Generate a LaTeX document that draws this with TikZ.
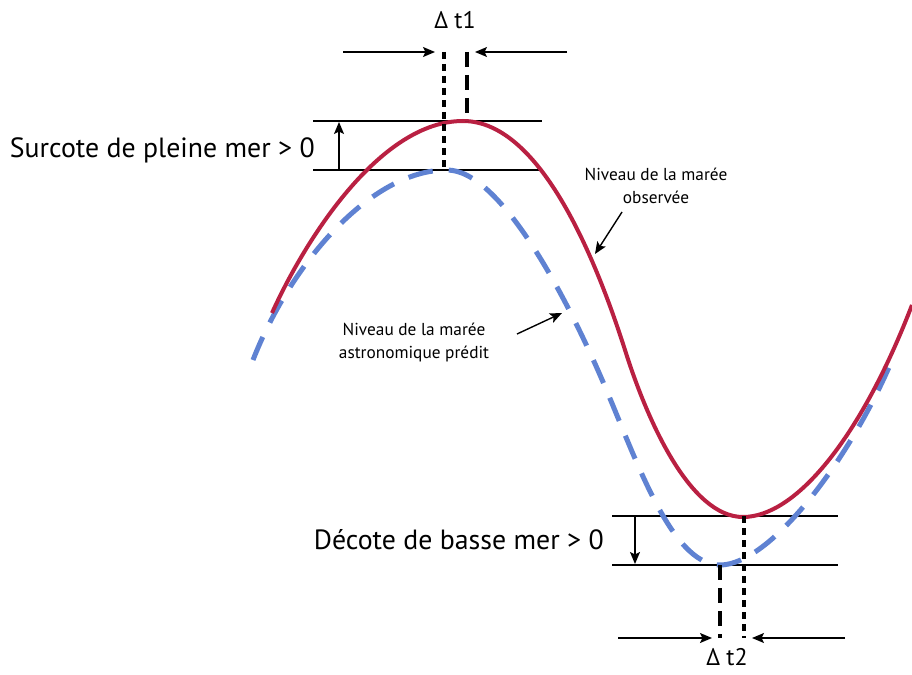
\documentclass[tikz,border=0pt]{standalone}
\usepackage{fontspec}
\setmainfont{PT Sans}
\usetikzlibrary{arrows.meta}
\definecolor{obs}{RGB}{185,32,66}
\definecolor{pred}{RGB}{95,130,210}
\tikzset{
  ref/.style={line width=1.4pt, black},
  arr/.style={line width=1.4pt, black, -{Stealth[length=12pt,width=10pt,inset=2.5pt]}},
  dotv/.style={line width=3.5pt, black, dash pattern=on 7pt off 5pt},
  dashv/.style={line width=3.5pt, black, dash pattern=on 15pt off 8pt},
  obsline/.style={line width=4pt, obs},
  predline/.style={line width=5pt, pred, dash pattern=on 25pt off 16pt},
  big/.style={font=\fontsize{27.8}{30}\selectfont, inner sep=0pt},
  delta/.style={font=\fontsize{24}{26}\selectfont, inner sep=0pt},
  small/.style={font=\fontsize{17.3}{23}\selectfont, align=center, inner sep=0pt}
}
\begin{document}
\begin{tikzpicture}[x=1pt,y=-1pt]
\useasboundingbox (0,0) rectangle (912,674);
% reference lines
\coordinate (t1a) at (313,121); \coordinate (t1b) at (542,121);
\coordinate (t2a) at (313,170); \coordinate (t2b) at (542,170);
\coordinate (b1a) at (612,516); \coordinate (b1b) at (838,516);
\coordinate (b2a) at (612,565); \coordinate (b2b) at (838,565);
\draw[ref] (t1a) -- (t1b);
\draw[ref] (t2a) -- (t2b);
\draw[ref] (b1a) -- (b1b);
\draw[ref] (b2a) -- (b2b);
% predicted curve
\draw[predline] (253,360) .. controls (290,265) and (370,170) .. (447,170)
  .. controls (500,170) and (565,295) .. (600,375)
  .. controls (635,455) and (670,565) .. (720,565)
  .. controls (770,565) and (850,460) .. (893,358);
% observed curve
\draw[obsline] (272,313) .. controls (305,240) and (380,121) .. (463,121)
  .. controls (530,121) and (585,225) .. (625,350)
  .. controls (647,420) and (690,517) .. (743,517)
  .. controls (795,517) and (860,440) .. (912,305);
% delta t1
\coordinate (d1top) at (444,52); \coordinate (d1bot) at (444,170);
\coordinate (e1top) at (467,52); \coordinate (e1bot) at (467,121);
\draw[dotv] (d1top) -- (d1bot);
\draw[dashv] (e1top) -- (e1bot);
\coordinate (a1s) at (343,52); \coordinate (a1e) at (435,52);
\coordinate (a2s) at (567,52); \coordinate (a2e) at (475,52);
\draw[arr] (a1s) -- (a1e);
\draw[arr] (a2s) -- (a2e);
\node[delta] (dt1) at (455,20) {Δ t1};
% surcote
\coordinate (su1) at (339,170); \coordinate (su2) at (339,122);
\draw[arr] (su1) -- (su2);
\node[big, anchor=base east] (sur) at (315,157) {Surcote de pleine mer > 0};
% delta t2
\coordinate (d2top) at (744,516); \coordinate (d2bot) at (744,638);
\coordinate (e2top) at (720,565); \coordinate (e2bot) at (720,638);
\draw[dotv] (d2top) -- (d2bot);
\draw[dashv] (e2top) -- (e2bot);
\coordinate (a3s) at (618,638); \coordinate (a3e) at (712,638);
\coordinate (a4s) at (845,638); \coordinate (a4e) at (752,638);
\draw[arr] (a3s) -- (a3e);
\draw[arr] (a4s) -- (a4e);
\node[delta, anchor=base] (dt2) at (727,665) {Δ t2};
% decote
\coordinate (de1) at (635,516); \coordinate (de2) at (635,564);
\draw[arr] (de1) -- (de2);
\node[big, anchor=base east] (dec) at (604,549) {Décote de basse mer > 0};
% labels
\node[small] (lobs) at (656,186) {Niveau de la marée\\observée};
\coordinate (lo1) at (622,212); \coordinate (lo2) at (595,254);
\draw[arr] (lo1) -- (lo2);
\node[small] (lpred) at (414,342) {Niveau de la marée\\astronomique prédit};
\coordinate (lp1) at (517,334); \coordinate (lp2) at (562,313);
\draw[arr] (lp1) -- (lp2);
\end{tikzpicture}
\end{document}
